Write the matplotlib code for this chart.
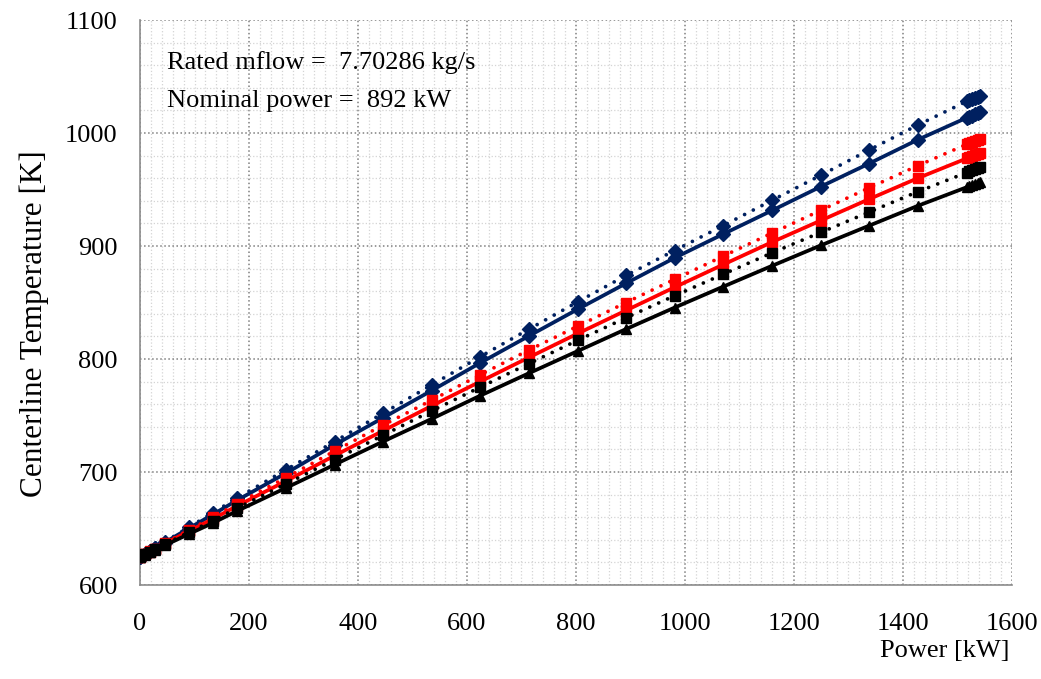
import matplotlib.pyplot as plt
from matplotlib.ticker import MultipleLocator

# power levels [kW]
power = [0, 9, 18, 27, 45, 89, 134, 178, 268, 357, 446, 535, 624, 714, 803,
         892, 981, 1070, 1160, 1249, 1338, 1427, 1517, 1522, 1527, 1532, 1537, 1541]

# centerline temperatures [K]
navy_dot = [625, 627.6, 630.2, 632.8, 638, 651, 664, 677, 702, 727, 752, 777, 802, 826.5, 850.5,
            874, 896, 918, 940.5, 962.5, 985, 1007, 1028, 1029, 1030, 1031, 1032, 1033]
navy_sol = [625, 627.5, 630, 632.5, 637.5, 650, 662.5, 675, 699, 724, 748, 772, 796.5, 820.5, 844,
            867, 889.5, 910.5, 931.5, 952.5, 973, 994, 1013.5, 1014.5, 1015.5, 1016.5, 1017.5, 1018.5]
red_dot = [625, 627.4, 629.8, 632.2, 637, 648.5, 660, 672, 695, 718.5, 741.5, 763.5, 786, 808, 829,
           850, 870.5, 891, 911.5, 931.5, 951.5, 971, 990, 991, 992, 993, 994, 995]
red_sol = [625, 627.3, 629.6, 631.9, 636.5, 647.5, 658.5, 670, 692, 714.5, 736.5, 758.5, 780, 801.5, 822.5,
           843, 863.5, 883.5, 903.5, 922.5, 941.5, 960, 977.5, 978.5, 979.5, 980.5, 981.5, 982.5]
black_dot = [625, 627.2, 629.4, 631.6, 636, 646.5, 657, 668, 689.5, 711, 732.5, 754, 775, 796, 816.5,
             836.5, 856, 875, 894, 912, 930, 948, 965, 966, 967, 968, 969, 970]
black_sol = [625, 627, 629, 631, 635, 645, 655, 665.5, 686, 706.5, 727, 747, 767.5, 787.5, 807,
             826.5, 845.5, 864, 882.5, 900.5, 918, 935.5, 952, 953, 954, 955, 956, 957]

navy = '#002060'
dots = (0, (0.01, 2.6))

plt.rcParams['font.family'] = ['Liberation Serif', 'DejaVu Serif']

fig = plt.figure(figsize=(10.41, 6.79), dpi=100)
ax = fig.add_axes([0.1345, 0.1384, 0.8375, 0.8321])

series = [
    (navy_dot, navy, dots, 'D', 7.5),
    (navy_sol, navy, '-', 'D', 7.5),
    (red_dot, 'red', dots, 's', 7.5),
    (red_sol, 'red', '-', 's', 7.5),
    (black_dot, 'black', dots, 's', 7),
    (black_sol, 'black', '-', '^', 7.5),
]
for temps, col, ls, mk, ms in series:
    ax.plot(power, temps, color=col, linestyle=ls, lw=2.7, dash_capstyle='round',
            marker=mk, markersize=ms, markeredgecolor=col, markerfacecolor=col, zorder=3)

ax.set_xlim(0, 1600)
ax.set_ylim(600, 1100)
ax.xaxis.set_major_locator(MultipleLocator(200))
ax.xaxis.set_minor_locator(MultipleLocator(20))
ax.yaxis.set_major_locator(MultipleLocator(100))
ax.yaxis.set_minor_locator(MultipleLocator(20))

ax.grid(which='minor', color='#d4d4d4', linestyle=':', lw=0.9)
ax.grid(which='major', color='#7f7f7f', linestyle=':', lw=1.1)
ax.set_axisbelow(True)

for side in ['top', 'right']:
    ax.spines[side].set_visible(False)
for side in ['left', 'bottom']:
    ax.spines[side].set_color('#8c8c8c')
    ax.spines[side].set_linewidth(1.2)

ax.tick_params(which='both', length=0)
ax.tick_params(axis='y', labelsize=19, pad=16)
ax.tick_params(axis='x', labelsize=19, pad=20)

fig.text(0.033, 0.523, 'Centerline Temperature [K]', fontsize=22.5,
         rotation=90, ha='center', va='center')
fig.text(0.970, 0.025, 'Power [kW]', fontsize=19, ha='right', va='bottom')

ax.text(0.031, 0.924, 'Rated mflow =  7.70286 kg/s', transform=ax.transAxes,
        fontsize=19, va='center')
ax.text(0.031, 0.857, 'Nominal power =  892 kW', transform=ax.transAxes,
        fontsize=19, va='center')

fig.savefig('out.png', dpi=100)
